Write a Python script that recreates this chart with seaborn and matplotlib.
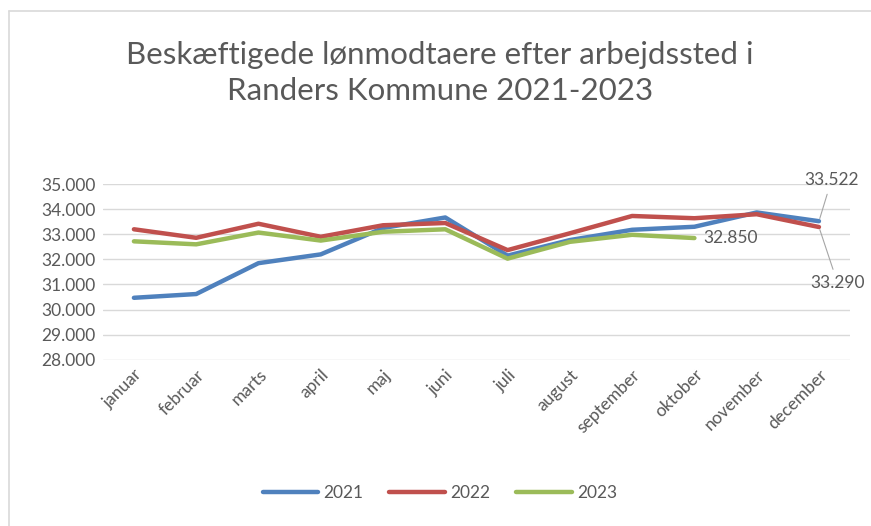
import numpy as np
import pandas as pd
import matplotlib.pyplot as plt
import seaborn as sns

months = ['januar', 'februar', 'marts', 'april', 'maj', 'juni', 'juli',
          'august', 'september', 'oktober', 'november', 'december']
y2021 = [30470, 30620, 31850, 32200, 33250, 33670, 32150, 32770, 33180, 33300, 33870, 33522]
y2022 = [33200, 32860, 33420, 32900, 33360, 33450, 32370, 33040, 33730, 33640, 33800, 33290]
y2023 = [32720, 32600, 33070, 32750, 33100, 33200, 32030, 32700, 32980, 32850, np.nan, np.nan]

years = ['2021', '2022', '2023']
colors = ['#4F81BD', '#C0504D', '#9BBB59']

df = pd.DataFrame({'month': months * 3,
                   'value': y2021 + y2022 + y2023,
                   'year': np.repeat(years, len(months))})
df['pos'] = np.tile(np.arange(len(months)), 3)
df = df.dropna()

sns.set_theme(style='white')
plt.rcParams['font.family'] = ['Lato', 'DejaVu Sans']
txt = '#595959'

fig = plt.figure(figsize=(8.71, 5.26), dpi=100)
ax = fig.add_axes([0.118, 0.316, 0.858, 0.334])

sns.lineplot(data=df, x='pos', y='value', hue='year', palette=colors,
             linewidth=3.2, ax=ax, legend=False, sort=False)

ax.set_xlim(-0.5, 11.5)
ax.set_ylim(28000, 35000)
ax.set_yticks(range(28000, 35001, 1000))
ax.set_yticklabels([f'{v:,}'.replace(',', '.') for v in range(28000, 35001, 1000)],
                   color=txt, fontsize=12.5)
ax.set_xticks(range(len(months)))
ax.set_xticklabels(months, rotation=45, ha='right', rotation_mode='anchor',
                   color=txt, fontsize=12.5)
ax.tick_params(axis='both', length=0, pad=5)
ax.grid(True, axis='y', color='#D9D9D9', linewidth=1)
ax.set_xlabel('')
ax.set_ylabel('')
for s in ax.spines.values():
    s.set_visible(False)

# data labels
ax.annotate('33.522', xy=(11, y2021[11]), xytext=(11.2, 35150), color=txt,
            fontsize=12.5, ha='center', va='center',
            arrowprops=dict(arrowstyle='-', color='#A6A6A6', lw=0.8))
ax.annotate('33.290', xy=(11, y2022[11]), xytext=(11.3, 31050), color=txt,
            fontsize=12.5, ha='center', va='center',
            arrowprops=dict(arrowstyle='-', color='#A6A6A6', lw=0.8))
ax.text(9.15, y2023[9], '32.850', color=txt, fontsize=12.5, va='center', ha='left')

fig.text(0.505, 0.861, 'Beskæftigede lønmodtaere efter arbejdssted i\nRanders Kommune 2021-2023',
         ha='center', va='center', fontsize=22.5, color=txt, linespacing=1.35)

handles = [plt.Line2D([0], [0], color=c, lw=3.2) for c in colors]
fig.legend(handles, years, loc='center', bbox_to_anchor=(0.505, 0.062), ncol=3,
           frameon=False, fontsize=12.5, handlelength=3.2, columnspacing=1.5,
           handletextpad=0.3, labelcolor=txt)

# chart frame: only top and left edges are visible in the crop
fig.add_artist(plt.Line2D([0.0103, 1.0], [0.979, 0.979], transform=fig.transFigure,
                          color='#D9D9D9', linewidth=1.2))
fig.add_artist(plt.Line2D([0.0103, 0.0103], [0.0, 0.979], transform=fig.transFigure,
                          color='#D9D9D9', linewidth=1.2))

fig.savefig('out.png', dpi=100)
